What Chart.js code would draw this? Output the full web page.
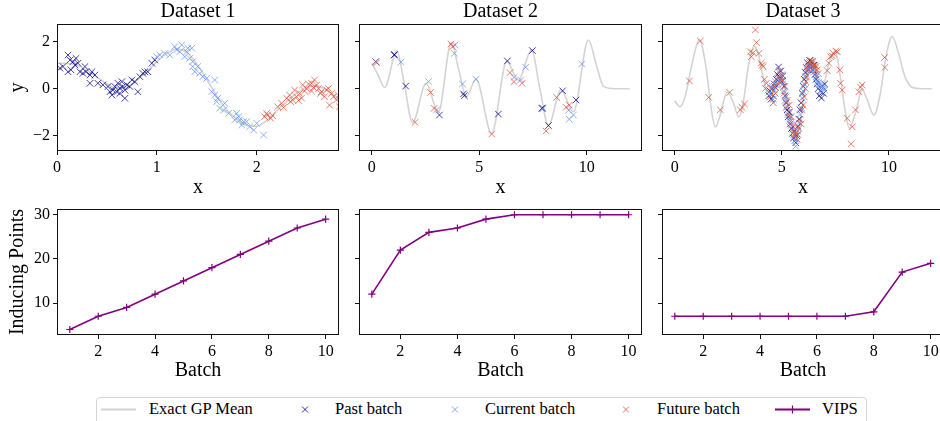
<!DOCTYPE html>
<html>
<head>
<meta charset="utf-8">
<script src="https://cdn.jsdelivr.net/npm/chart.js@4.4.1/dist/chart.umd.min.js"></script>
<style>
  html, body { margin: 0; padding: 0; background: #fff; }
  body { width: 940px; height: 421px; overflow: hidden; position: relative; font-family: "Liberation Serif", "Times New Roman", serif; }
  canvas { position: absolute; }
  #legend { position: absolute; left: 96px; top: 397px; width: 771px; height: 36px; border: 1px solid #d4d4d4; border-radius: 4px; box-sizing: border-box; }
  #legend svg { position: absolute; left: 0; top: 0; }
  .lg { position: absolute; top: 1px; font-size: 16.5px; line-height: 20px; color: #000; white-space: nowrap; }
</style>
</head>
<body>
<canvas id="c1" width="345" height="200" style="left:0;top:0"></canvas>
<canvas id="c2" width="305" height="200" style="left:345px;top:0"></canvas>
<canvas id="c3" width="305" height="200" style="left:650px;top:0"></canvas>
<canvas id="c4" width="345" height="200" style="left:0;top:190px"></canvas>
<canvas id="c5" width="305" height="200" style="left:345px;top:190px"></canvas>
<canvas id="c6" width="305" height="200" style="left:650px;top:190px"></canvas>

<div id="legend">
  <svg width="769" height="34">
    <line x1="4" y1="11.5" x2="39" y2="11.5" stroke="#d3d3d3" stroke-width="2"/>
    <path d="M205,8.5 L211,14.5 M211,8.5 L205,14.5" stroke="rgba(0,0,139,0.8)" stroke-width="1"/>
    <path d="M355,8.5 L361,14.5 M361,8.5 L355,14.5" stroke="rgba(100,149,237,0.8)" stroke-width="1"/>
    <path d="M526,8.5 L532,14.5 M532,8.5 L526,14.5" stroke="rgba(222,82,58,0.8)" stroke-width="1"/>
    <line x1="678" y1="11.5" x2="713" y2="11.5" stroke="#800080" stroke-width="2"/>
    <path d="M695.5,7.5 L695.5,15.5" stroke="#800080" stroke-width="1.2"/>
  </svg>
  <span class="lg" style="left:52px">Exact GP Mean</span>
  <span class="lg" style="left:238px">Past batch</span>
  <span class="lg" style="left:388px">Current batch</span>
  <span class="lg" style="left:560px">Future batch</span>
  <span class="lg" style="left:725px">VIPS</span>
</div>

<script>
// ---- data ----
const ds1CurveX = [0, 0.1, 0.2, 0.3, 0.4, 0.5, 0.6, 0.7, 0.8, 0.9, 1.0, 1.1, 1.2, 1.3, 1.4, 1.5, 1.6, 1.7, 1.8, 1.9, 2.0, 2.1, 2.2, 2.3, 2.4, 2.5, 2.6, 2.7, 2.8, 2.83];
const ds1CurveY = [1.08, 1.07, 1.0, 0.78, 0.5, 0.2, 0.03, 0.08, 0.35, 0.72, 1.15, 1.5, 1.68, 1.55, 1.05, 0.4, -0.3, -0.9, -1.3, -1.55, -1.6, -1.35, -0.95, -0.55, -0.2, 0.05, 0.12, -0.05, -0.35, -0.45];
const ds1Past = [[0.03,0.87],[0.06,0.94],[0.11,1.43],[0.13,1.22],[0.16,1.15],[0.18,1.01],[0.19,1.29],[0.21,1.08],[0.14,0.8],[0.11,0.72],
  [0.23,0.72],[0.26,0.65],[0.28,0.94],[0.29,0.72],[0.33,0.58],[0.35,0.72],[0.38,0.58],[0.33,0.23],[0.41,0.23],[0.46,0.16],
  [0.51,0.09],[0.53,-0.13],[0.55,-0.27],[0.56,-0.06],[0.58,0.09],[0.6,-0.13],[0.61,0.23],[0.63,0.02],[0.63,-0.2],[0.65,0.3],
  [0.66,0.09],[0.68,-0.06],[0.7,0.16],[0.68,-0.41],[0.73,0.09],[0.75,0.37],[0.78,0.3],[0.81,-0.13],[0.83,0.51],[0.86,0.65],
  [0.88,0.72],[0.91,0.72],[0.95,1.08],[0.98,1.22]];
const ds1Current = [[1.0,1.36],[1.03,1.43],[1.08,1.5],[1.13,1.43],[1.18,1.79],[1.2,1.65],[1.23,1.57],[1.25,1.86],[1.28,1.36],[1.3,1.57],
  [1.31,1.72],[1.33,1.29],[1.35,1.72],[1.36,1.15],[1.36,0.94],[1.38,0.72],[1.41,0.94],[1.43,0.65],[1.46,0.51],[1.5,0.44],
  [1.55,-0.13],[1.58,0.37],[1.58,-0.27],[1.6,-0.55],[1.61,-0.41],[1.63,-0.83],[1.67,-0.91],[1.68,-0.62],[1.72,-1.05],[1.78,-1.33],
  [1.8,-1.05],[1.82,-1.19],[1.83,-1.33],[1.85,-1.54],[1.87,-1.4],[1.9,-1.4],[1.93,-1.62],[1.97,-1.76],[2.0,-1.47],[2.07,-1.97]];
const ds1Future = [[2.08,-1.19],[2.1,-1.05],[2.11,-1.12],[2.14,-1.26],[2.16,-1.15],[2.21,-0.77],[2.25,-0.62],[2.27,-0.8],[2.3,-0.41],[2.33,-0.27],
  [2.34,-0.55],[2.36,-0.48],[2.38,-0.06],[2.4,-0.35],[2.42,-0.5],[2.43,-0.2],[2.45,-0.4],[2.46,0.16],[2.48,-0.1],[2.5,0.0],
  [2.52,0.2],[2.55,0.23],[2.55,-0.1],[2.57,0.05],[2.58,0.37],[2.6,0.15],[2.62,0.0],[2.64,-0.2],[2.65,-0.13],[2.68,-0.34],
  [2.7,-0.05],[2.72,0.01],[2.73,-0.7],[2.75,-0.2],[2.77,-0.34],[2.8,-0.48],[2.82,-0.3],[2.83,-0.77]];

const ds2CurveX = [0, 0.3, 0.6, 1.17, 1.5, 1.9, 2.53, 3.1, 3.7, 4.05, 4.4, 4.85, 5.58, 6.28, 6.82, 7.44, 7.8, 8.22, 8.8, 9.38, 10.08, 10.45, 10.78, 11.3, 12];
const ds2CurveY = [1.08, 0.58, 0.05, 1.6, 0.3, -1.45, 0.23, -1.0, 1.95, 0.8, -0.35, 0.4, -1.9, 1.15, 0.37, 1.65, 0.1, -1.55, -0.05, -0.98, 2.07, 1.0, 0.1, 0.0, 0.0];
const ds2Past = [[0.19,1.15],[1.05,1.43],[1.06,1.45],[1.58,0.11],[3.15,-1.12],[4.27,-0.22],[4.31,-0.3],[5.89,-1.08],[6.31,1.18],[7.47,1.62],
  [7.92,-0.84],[7.94,-0.82],[8.22,-1.57],[8.88,-0.09],[9.5,-0.48]];
const ds2Current = [[1.36,1.13],[2.64,0.3],[3.02,-0.9],[3.88,1.86],[3.84,1.5],[4.22,0.2],[4.85,0.4],[6.62,0.48],[6.93,0.37],[7.16,0.91],
  [7.95,-0.86],[9.16,-0.91],[9.19,-1.3],[9.38,-1.12],[9.77,1.05]];
const ds2Future = [[0.23,1.1],[2.02,-1.43],[2.74,-0.16],[2.9,-0.84],[3.69,1.9],[3.77,1.79],[5.58,-1.93],[6.43,0.68],[6.62,0.3],[6.99,0.23],
  [8.11,-1.8],[8.6,-0.37],[9.04,-0.79],[9.19,-0.7]];

const ds3CurveX = [0, 0.25, 0.5, 0.8, 1.15, 1.45, 1.7, 1.9, 2.1, 2.45, 2.7, 3.0, 3.2, 3.45, 3.7, 3.9, 4.1, 4.35, 4.6, 4.85, 5.05, 5.3, 5.55, 5.7, 5.9, 6.1, 6.35, 6.55, 6.8, 7.0, 7.2, 7.5, 7.7, 7.95, 8.15, 8.45, 8.75, 9.0, 9.3, 9.6, 9.85, 10.15, 10.45, 10.75, 11.1, 11.5, 12];
const ds3CurveY = [-0.52, -0.77, -0.3, 1.0, 2.08, 1.0, -0.8, -1.63, -1.2, -0.15, -0.5, -1.2, -0.6, 1.0, 1.8, 1.5, 0.6, -0.2, -0.1, 0.45, 0.3, -0.8, -1.85, -2.0, -1.2, 0.2, 1.0, 0.8, 0.0, 0.3, 1.1, 1.6, 0.7, -0.9, -1.69, -1.0, -0.05, -0.5, -1.12, -0.2, 1.3, 2.22, 1.5, 0.5, 0.05, 0.0, 0.0];
const ds3Past = [[4.4,-0.3],[4.45,-0.1],[4.5,-0.45],[4.55,0.0],[4.6,-0.3],[4.65,0.2],[4.7,0.05],[4.75,0.4],[4.8,0.6],[4.85,0.92],
  [4.9,0.5],[4.95,0.75],[5.0,0.3],[5.05,0.55],[5.1,0.1],[5.15,-0.3],[5.2,-0.6],[5.25,-0.9],[5.3,-1.2],[5.35,-1.0],
  [5.4,-1.5],[5.45,-1.7],[5.5,-1.9],[5.55,-2.1],[5.6,-1.8],[5.65,-2.3],[5.7,-2.0],[5.75,-1.6],[5.8,-1.3],[5.85,-0.9],
  [5.9,-0.6],[5.95,-0.2],[6.0,0.1],[6.05,0.4],[6.1,0.7],[6.15,0.9],[6.2,1.1],[6.25,0.8],[6.3,1.2],[6.35,1.0],
  [6.4,1.15],[6.45,0.8],[6.5,1.0],[6.55,0.6],[6.6,0.4],[6.65,0.2],[6.7,0.0],[6.75,-0.3],[6.8,-0.1],[6.85,-0.4],
  [6.9,0.1],[6.95,-0.2],[7.0,0.2]];
const ds3Current = [[4.4,-0.15],[4.5,-0.25],[4.55,0.1],[4.6,-0.45],[4.65,-0.05],[4.7,0.3],[4.75,0.15],[4.8,0.45],[4.85,0.7],[4.9,0.3],
  [4.95,0.55],[5.0,0.6],[5.05,0.2],[5.1,-0.1],[5.15,-0.5],[5.2,-0.35],[5.25,-0.75],[5.3,-1.0],[5.35,-1.35],[5.4,-1.2],
  [5.45,-1.55],[5.5,-1.75],[5.55,-1.95],[5.6,-2.2],[5.65,-2.45],[5.7,-2.15],[5.75,-1.8],[5.8,-1.45],[5.85,-1.1],[5.9,-0.8],
  [5.95,-0.4],[6.0,-0.1],[6.05,0.2],[6.1,0.5],[6.15,0.6],[6.2,0.85],[6.25,1.05],[6.3,0.9],[6.35,0.75],[6.4,0.95],
  [6.45,1.0],[6.5,0.7],[6.55,0.85],[6.6,0.5],[6.65,0.3],[6.7,0.25],[6.75,0.05],[6.8,0.2],[6.85,-0.15],[6.9,0.0],
  [6.95,0.15],[7.0,-0.05]];
const ds3Future = [[0.69,0.33],[1.2,2.03],[1.59,-0.37],[2.13,-0.9],[2.57,-0.16],[3.07,-0.9],[3.15,-0.8],[3.26,-0.65],[3.54,1.57],[3.58,1.36],
  [3.66,1.53],[3.77,2.5],[3.82,1.96],[3.93,1.5],[4.03,1.08],[4.08,1.0],[4.13,0.94],[4.19,0.4],[4.24,0.01],[4.28,0.23],
  [4.45,-0.35],[4.5,0.0],[4.6,-0.6],[4.65,0.1],[4.7,-0.2],[4.8,0.2],[4.85,0.5],[4.9,0.75],[4.95,0.4],[5.0,0.5],
  [5.05,0.35],[5.1,-0.2],[5.15,0.1],[5.2,-0.8],[5.25,-0.5],[5.3,-1.1],[5.35,-0.7],[5.4,-1.4],[5.45,-1.2],[5.5,-1.6],
  [5.55,-1.85],[5.6,-2.0],[5.65,-1.9],[5.7,-2.15],[5.75,-1.95],[5.8,-1.7],[5.85,-1.3],[5.9,-1.5],[5.95,-0.9],[6.0,-0.7],
  [6.05,-0.35],[6.1,0.0],[6.12,0.3],[6.15,0.5],[6.2,0.75],[6.25,0.95],[6.3,1.1],[6.35,1.2],[6.4,1.05],[6.45,1.15],
  [6.5,0.9],[6.55,1.0],[6.6,0.95],[6.65,0.8],[6.7,0.65],
  [7.12,0.77],[7.2,1.08],[7.27,1.36],[7.35,1.4],[7.4,1.5],[7.52,1.6],[7.59,1.57],[7.71,0.8],[7.74,0.23],[7.82,-0.06],
  [8.05,-1.26],[8.29,-1.62],[8.24,-2.35],[8.44,-0.9],[8.6,-0.13],[8.68,0.06],[8.75,0.16],[9.8,1.33],[9.81,0.9]];

const batches = [1, 2, 3, 4, 5, 6, 7, 8, 9, 10];
const vips1 = [4, 7, 9, 12, 15, 18, 21, 24, 27, 29];
const vips2 = [12, 22, 26, 27, 29, 30, 30, 30, 30, 30];
const vips3 = [7, 7, 7, 7, 7, 7, 7, 8, 17, 19];

const yTicksTop = [-2, 0, 2];
const xTicks1 = [0, 1, 2];
const xTicks23 = [0, 5, 10];
const yTicksBottom = [10, 20, 30];
const xTicksBottom = [2, 4, 6, 8, 10];

// ---- styling ----
const FONT = "'Liberation Serif', 'Times New Roman', serif";
Chart.defaults.font.family = FONT;
Chart.defaults.color = '#000';
const GREY = '#d3d3d3';
const PAST = 'rgba(0,0,139,0.75)';
const CURRENT = 'rgba(100,149,237,0.75)';
const FUTURE = 'rgba(222,82,58,0.75)';
const VIPS = '#800080';

function minus(v) { return v < 0 ? '\u2212' + Math.abs(v) : String(v); }
function pts(arr) { return arr.map(p => ({ x: p[0], y: p[1] })); }
function pairs(xs, ys) { return xs.map((x, i) => ({ x: x, y: ys[i] })); }

// all four spines, like matplotlib
const frame = {
  id: 'frame',
  afterDraw(chart) {
    const a = chart.chartArea, ctx = chart.ctx;
    ctx.save();
    ctx.strokeStyle = '#111';
    ctx.lineWidth = 1;
    ctx.strokeRect(Math.round(a.left) + 0.5, Math.round(a.top) + 0.5, Math.round(a.right - a.left) - 1, Math.round(a.bottom - a.top) - 1);
    ctx.restore();
  }
};

function axis(min, max, ticks, size, labels, title, titlePad) {
  return {
    type: 'linear', min: min, max: max,
    afterBuildTicks: s => { s.ticks = ticks.map(v => ({ value: v })); },
    afterFit: s => { if (s.isHorizontal()) s.height = size; else s.width = size; },
    ticks: { autoSkip: false, maxRotation: 0, padding: 3, color: '#000', font: { family: FONT, size: 16 },
      callback: v => labels ? minus(v) : '' },
    grid: { drawOnChartArea: false, drawTicks: true, tickLength: 4, color: '#111', tickColor: '#111' },
    border: { display: false },
    title: { display: !!title, text: title, color: '#000', font: { family: FONT, size: 20 }, padding: titlePad }
  };
}

function marks(data, color, order) {
  return { data: pts(data), showLine: false, pointStyle: 'crossRot', pointRadius: 4.6, pointBorderWidth: 1,
    pointBorderColor: color, pointBackgroundColor: color, borderColor: color, order: order };
}

function topPanel(id, title, cx, cy, past, cur, fut, xMin, xMax, xTicks, yW, padR, first) {
  new Chart(document.getElementById(id), {
    type: 'scatter',
    data: { datasets: [
      { data: pairs(cx, cy), showLine: true, pointRadius: 0, borderColor: GREY, borderWidth: 1.6,
        cubicInterpolationMode: 'monotone', order: 4 },
      marks(past, PAST, 3), marks(cur, CURRENT, 2), marks(fut, FUTURE, 1)
    ] },
    options: {
      responsive: false, animation: false, devicePixelRatio: 1,
      layout: { padding: { left: 0, right: padR, top: 0, bottom: 0 } },
      plugins: { legend: { display: false }, tooltip: { enabled: false },
        title: { display: true, text: title, color: '#000', font: { family: FONT, size: 20, weight: 'normal' }, padding: 0, fullSize: false } },
      scales: {
        x: axis(xMin, xMax, xTicks, 49, true, 'x', { top: 0, bottom: 0 }),
        y: axis(-2.65, 2.75, yTicksTop, yW, first, first ? 'y' : '', { top: 5.5, bottom: 0 })
      }
    },
    plugins: [frame]
  });
}

function bottomPanel(id, values, yW, padR, first) {
  new Chart(document.getElementById(id), {
    type: 'scatter',
    data: { datasets: [
      { data: pairs(batches, values), showLine: true, borderColor: VIPS, borderWidth: 1.6,
        pointStyle: 'cross', pointRadius: 3.6, pointBorderWidth: 1.2, pointBorderColor: VIPS, pointBackgroundColor: VIPS }
    ] },
    options: {
      responsive: false, animation: false, devicePixelRatio: 1,
      layout: { padding: { left: 0, right: padR, top: 19, bottom: 0 } },
      plugins: { legend: { display: false }, tooltip: { enabled: false } },
      scales: {
        x: axis(0.55, 10.47, xTicksBottom, 55, true, 'Batch', { top: 0, bottom: 7 }),
        y: axis(2.75, 31.3, yTicksBottom, yW, first, first ? 'Inducing Points' : '', { top: 5.5, bottom: 0 })
      }
    },
    plugins: [frame]
  });
}

topPanel('c1', 'Dataset 1', ds1CurveX, ds1CurveY, ds1Past, ds1Current, ds1Future, 0, 2.825, xTicks1, 57, 6, true);
topPanel('c2', 'Dataset 2', ds2CurveX, ds2CurveY, ds2Past, ds2Current, ds2Future, -0.59, 12.57, xTicks23, 14, 8, false);
topPanel('c3', 'Dataset 3', ds3CurveX, ds3CurveY, ds3Past, ds3Current, ds3Future, -0.59, 12.57, xTicks23, 12, 11, false);
bottomPanel('c4', vips1, 57, 6, true);
bottomPanel('c5', vips2, 14, 8, false);
bottomPanel('c6', vips3, 12, 11, false);
</script>
</body>
</html>
